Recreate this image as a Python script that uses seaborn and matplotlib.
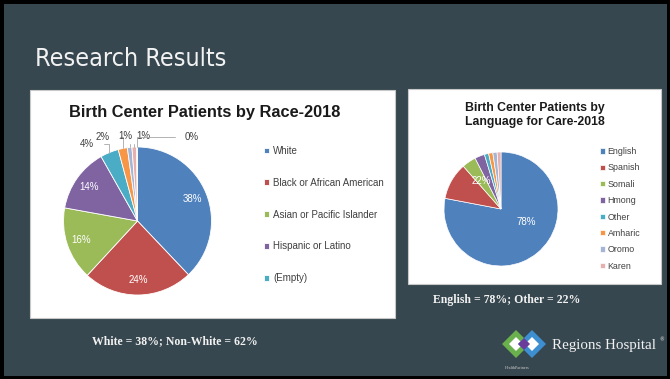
import numpy as np
import matplotlib.pyplot as plt
import seaborn as sns
from matplotlib.patches import Rectangle, Polygon

# data
race_names = ['White', 'Black or African American', 'Asian or Pacific Islander',
              'Hispanic or Latino', '(Empty)']
race_pct = [38, 24, 16, 14, 4, 2, 1, 1, 0.2]
race_labels = ['38%', '24%', '16%', '14%', '4%', '2%', '1%', '1%', '0%']

lang_names = ['English', 'Spanish', 'Somali', 'Hmong', 'Other', 'Amharic', 'Oromo', 'Karen']
lang_pct = [78, 10.5, 4, 2.8, 1.2, 1.2, 1.2, 1.1]
lang_labels = ['78%', '22%']

office = ['#4f81bd', '#c0504d', '#9bbb59', '#8064a2', '#4bacc6', '#f79646',
          '#a5b5d6', '#e6b0ae', '#c8c8c8']

sns.set_theme(style='white')
bg = '#37474f'
W, H = 670, 379

fig = plt.figure(figsize=(W / 100, H / 100), dpi=100, facecolor=bg)
ax = fig.add_axes([0, 0, 1, 1])
ax.set_facecolor(bg)


def up(y):
    # pixel row (from top) -> y coordinate
    return H - y


# black frame
ax.add_patch(Rectangle((0, 0), W, H, fill=False, edgecolor='black', lw=5, clip_on=False, zorder=10))

# title
ax.text(35, up(59), 'Research Results', color='#f2f2f2', fontsize=18, va='center', ha='left',
        family='DejaVu Sans', fontstretch='condensed')

# white panels
ax.add_patch(Rectangle((30, up(318)), 365, 228, facecolor='white', edgecolor='#c8c8c8', lw=0.8))
ax.add_patch(Rectangle((408, up(284)), 253, 195, facecolor='white', edgecolor='#c8c8c8', lw=0.8))

chart_font = ['Liberation Sans', 'DejaVu Sans']

# ---- left pie: race
c1, r1 = (137.5, up(221)), 74
wedges1, _ = ax.pie(race_pct, colors=office, startangle=90, counterclock=False,
                    center=c1, radius=r1, frame=True,
                    wedgeprops=dict(edgecolor='white', linewidth=0.6))
ax.text(205, up(112), 'Birth Center Patients by Race-2018', ha='center', va='center',
        fontsize=11.8, fontweight='bold', color='#1a1a1a', family=chart_font)

for i, w in enumerate(wedges1[:4]):
    mid = np.deg2rad((w.theta1 + w.theta2) / 2)
    rr = 0.8 * r1
    ax.text(c1[0] + rr * np.cos(mid), c1[1] + rr * np.sin(mid), race_labels[i],
            color='white', fontsize=7, ha='center', va='center', family=chart_font)

# outside labels with leader lines
out_angles = [123.3, 112.3, 98, 86, 57]
out_r = [1.245, 1.227, 1.16, 1.153, 1.353]
for k, i in enumerate(range(4, 9)):
    w = wedges1[i]
    mid = np.deg2rad((w.theta1 + w.theta2) / 2)
    a = np.deg2rad(out_angles[k])
    tx, ty = c1[0] + out_r[k] * r1 * np.cos(a), c1[1] + out_r[k] * r1 * np.sin(a)
    px, py = c1[0] + 1.0 * r1 * np.cos(mid), c1[1] + 1.0 * r1 * np.sin(mid)
    ax.annotate(race_labels[i], xy=(px, py), xytext=(tx, ty), ha='center', va='center',
                fontsize=7, color='#404040', family=chart_font,
                arrowprops=dict(arrowstyle='-', color='#a6a6a6', lw=0.6, shrinkA=5, shrinkB=0,
                                connectionstyle='angle,angleA=0,angleB=90,rad=0'))

leg1 = ax.legend(wedges1[:5], race_names, loc='upper left', bbox_to_anchor=(264, up(146)),
                 bbox_transform=ax.transData, frameon=False,
                 labelspacing=2.24, handlelength=0.55, handleheight=0.55, handletextpad=0.4,
                 borderpad=0, borderaxespad=0, prop=dict(family=chart_font, size=7))
for t in leg1.get_texts():
    t.set_color('#404040')
ax.add_artist(leg1)

# ---- right pie: language
c2, r2 = (501, up(209)), 57
wedges2, _ = ax.pie(lang_pct, colors=office, startangle=90, counterclock=False,
                    center=c2, radius=r2, frame=True,
                    wedgeprops=dict(edgecolor='white', linewidth=0.5))
ax.text(535, up(115), 'Birth Center Patients by\nLanguage for Care-2018', ha='center',
        va='center', fontsize=8.8, fontweight='bold', color='#1a1a1a', family=chart_font,
        linespacing=1.25)

eng = np.deg2rad(-27)
ax.text(c2[0] + 0.5 * r2 * np.cos(eng), c2[1] + 0.5 * r2 * np.sin(eng), lang_labels[0],
        color='white', fontsize=7, ha='center', va='center', family=chart_font)
oth = np.deg2rad((wedges2[1].theta2 + wedges2[-1].theta1) / 2 - 5)
ax.text(c2[0] + 0.6 * r2 * np.cos(oth), c2[1] + 0.6 * r2 * np.sin(oth), lang_labels[1],
        color='white', fontsize=7, ha='center', va='center', family=chart_font)

leg2 = ax.legend(wedges2, lang_names, loc='upper left', bbox_to_anchor=(600, up(147)),
                 bbox_transform=ax.transData, frameon=False,
                 labelspacing=0.83, handlelength=0.55, handleheight=0.55, handletextpad=0.3,
                 borderpad=0, borderaxespad=0, prop=dict(family=chart_font, size=6.4))
for t in leg2.get_texts():
    t.set_color('#404040')

# captions
cap_font = ['Liberation Serif', 'DejaVu Serif']
ax.text(92, up(341), 'White = 38%; Non-White = 62%', color='#f2f2f2', fontsize=8.5,
        fontweight='bold', ha='left', va='center', family=cap_font)
ax.text(433, up(300), 'English = 78%; Other = 22%', color='#f2f2f2', fontsize=8.5,
        fontweight='bold', ha='left', va='center', family=cap_font)


# logo
def diamond(cx, cy, s, **kw):
    return Polygon([(cx - s, cy), (cx, cy + s), (cx + s, cy), (cx, cy - s)], closed=True, **kw)


ly = up(344)
ax.add_patch(diamond(516, ly, 14, facecolor='#6ab04c', edgecolor='none'))
ax.add_patch(diamond(516, ly, 7, facecolor='white', edgecolor='none'))
ax.add_patch(diamond(532, ly, 14, facecolor='#3d8fd1', edgecolor='none'))
ax.add_patch(diamond(532, ly, 7, facecolor='white', edgecolor='none'))
ax.add_patch(diamond(524, ly, 6, facecolor='#6a3d9a', edgecolor='none'))
ax.text(552, up(345), 'Regions Hospital', color='#f2f2f2', fontsize=10.8, ha='left',
        va='center', family=cap_font)
ax.text(659, up(340), '\u00ae', color='#f2f2f2', fontsize=3.5, ha='left', va='center')
ax.text(505, up(368), 'HealthPartners', color='#d0d0d0', fontsize=3, ha='left', va='center',
        family=cap_font)

ax.set_xlim(0, W)
ax.set_ylim(0, H)
ax.set_aspect('auto')
ax.axis('off')

fig.savefig('out.png', dpi=100, facecolor=bg)
